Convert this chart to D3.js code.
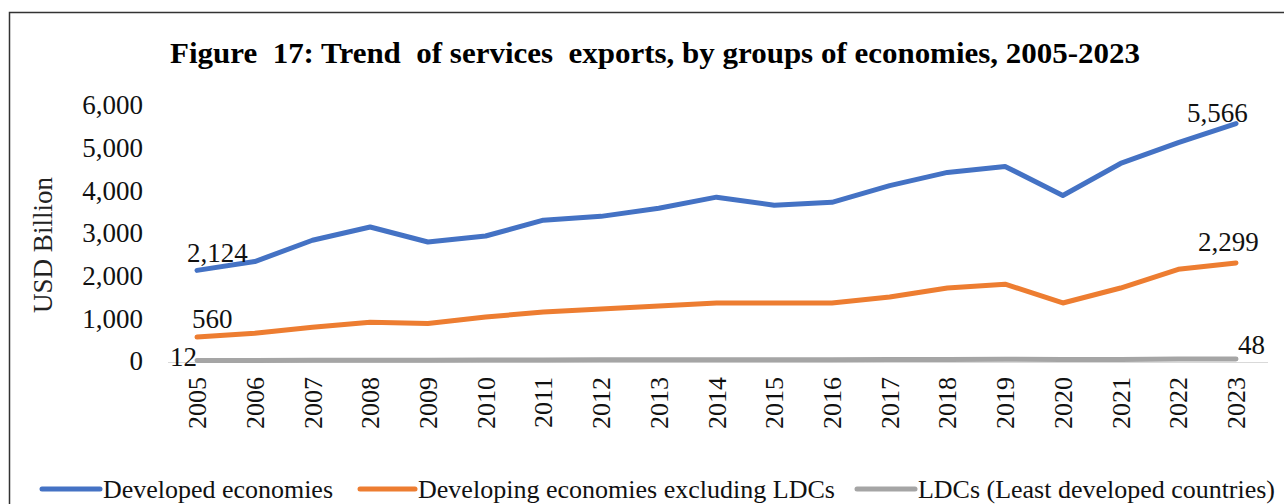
<!DOCTYPE html>
<html>
<head>
<meta charset="utf-8">
<script src="https://cdn.jsdelivr.net/npm/d3@7"></script>
<style>
    body { margin: 0; background: #fff; }
    svg { display: block; font-family: "Liberation Serif", "Times New Roman", serif; }
    .title { white-space: pre; }
</style>
</head>
<body>
<svg id="chart_svg"></svg>
<script>
const years = [2005, 2006, 2007, 2008, 2009, 2010, 2011, 2012, 2013, 2014, 2015, 2016, 2017, 2018, 2019, 2020, 2021, 2022, 2023];
const developed = [2124, 2330, 2830, 3140, 2790, 2930, 3300, 3390, 3580, 3840, 3650, 3720, 4110, 4420, 4560, 3880, 4630, 5120, 5566];
const developingExLdc = [560, 650, 790, 910, 880, 1030, 1150, 1220, 1290, 1360, 1360, 1360, 1500, 1710, 1800, 1360, 1710, 2150, 2299];
const ldcs = [12, 14, 17, 20, 19, 22, 25, 28, 30, 32, 31, 32, 35, 38, 40, 33, 38, 44, 48];
const yTicks = [0, 1000, 2000, 3000, 4000, 5000, 6000];
const seriesNames = ["Developed economies", "Developing economies excluding LDCs", "LDCs (Least developed countries)"];
const seriesColors = ["#4472C4", "#ED7D31", "#A5A5A5"];

const width = 1284;
const height = 504;
const svg = d3.select("#chart_svg")
    .attr("width", width)
    .attr("height", height);

// frame of the chart area (runs off the right / bottom edge)
svg.append("rect")
    .attr("x", 9.5)
    .attr("y", 12.5)
    .attr("width", 1400)
    .attr("height", 600)
    .attr("fill", "none")
    .attr("stroke", "#333")
    .attr("stroke-width", 1.5);

svg.append("text")
    .attr("class", "title")
    .attr("x", 170)
    .attr("y", 63)
    .attr("textLength", 970)
    .attr("lengthAdjust", "spacingAndGlyphs")
    .attr("font-size", 29)
    .attr("font-weight", "bold")
    .text("Figure  17: Trend  of services  exports, by groups of economies, 2005-2023");

const x = d3.scaleLinear()
    .domain([2005, 2023])
    .range([197, 1236]);
const y = d3.scaleLinear()
    .domain([0, 6000])
    .range([361, 105]);

// y tick labels
const fmt = d3.format(",");
svg.append("g").selectAll("text")
    .data(yTicks)
    .join("text")
    .attr("x", 143)
    .attr("y", d => y(d))
    .attr("dy", "0.35em")
    .attr("text-anchor", "end")
    .attr("font-size", 27)
    .attr("fill", "#111")
    .text(d => fmt(d));

svg.append("text")
    .attr("transform", `translate(52, 245) rotate(-90)`)
    .attr("text-anchor", "middle")
    .attr("font-size", 27)
    .attr("fill", "#222")
    .text("USD Billion");

// x axis line
svg.append("line")
    .attr("x1", 168)
    .attr("x2", 1268)
    .attr("y1", y(0) + 1.5)
    .attr("y2", y(0) + 1.5)
    .attr("stroke", "#d9d9d9")
    .attr("stroke-width", 1);

svg.append("g").selectAll("text")
    .data(years)
    .join("text")
    .attr("transform", d => `translate(${x(d)}, 377) rotate(-90)`)
    .attr("dy", "0.35em")
    .attr("text-anchor", "end")
    .attr("font-size", 26)
    .attr("fill", "#111")
    .text(d => d);

const allSeries = [developed, developingExLdc, ldcs];
const line = d3.line()
    .x((d, i) => x(years[i]))
    .y(d => y(d));

svg.append("g").selectAll("path")
    .data(allSeries)
    .join("path")
    .attr("d", line)
    .attr("fill", "none")
    .attr("stroke", (d, i) => seriesColors[i])
    .attr("stroke-width", 5)
    .attr("stroke-linejoin", "round")
    .attr("stroke-linecap", "round");

// first / last value labels
const endLabels = [
    {v: developed[0], x: 187, y: 253},
    {v: developingExLdc[0], x: 192, y: 319},
    {v: ldcs[0], x: 170, y: 357},
    {v: developed[developed.length - 1], x: 1187, y: 113},
    {v: developingExLdc[developingExLdc.length - 1], x: 1198, y: 242},
    {v: ldcs[ldcs.length - 1], x: 1238, y: 345}
];
svg.append("g").selectAll("text")
    .data(endLabels)
    .join("text")
    .attr("x", d => d.x)
    .attr("y", d => d.y)
    .attr("dy", "0.35em")
    .attr("font-size", 27)
    .attr("fill", "#111")
    .text(d => fmt(d.v));

// legend
const legendItems = [
    {x1: 42, x2: 100, tx: 103, tw: 230},
    {x1: 360, x2: 415, tx: 418, tw: 417},
    {x1: 857, x2: 915, tx: 918, tw: 357}
];
const legend = svg.append("g").selectAll("g")
    .data(legendItems)
    .join("g");
legend.append("line")
    .attr("x1", d => d.x1)
    .attr("x2", d => d.x2)
    .attr("y1", 489)
    .attr("y2", 489)
    .attr("stroke", (d, i) => seriesColors[i])
    .attr("stroke-width", 5)
    .attr("stroke-linecap", "round");
legend.append("text")
    .attr("x", d => d.tx)
    .attr("y", 489)
    .attr("dy", "0.35em")
    .attr("textLength", d => d.tw)
    .attr("lengthAdjust", "spacingAndGlyphs")
    .attr("font-size", 25)
    .attr("fill", "#111")
    .text((d, i) => seriesNames[i]);
</script>
</body>
</html>
